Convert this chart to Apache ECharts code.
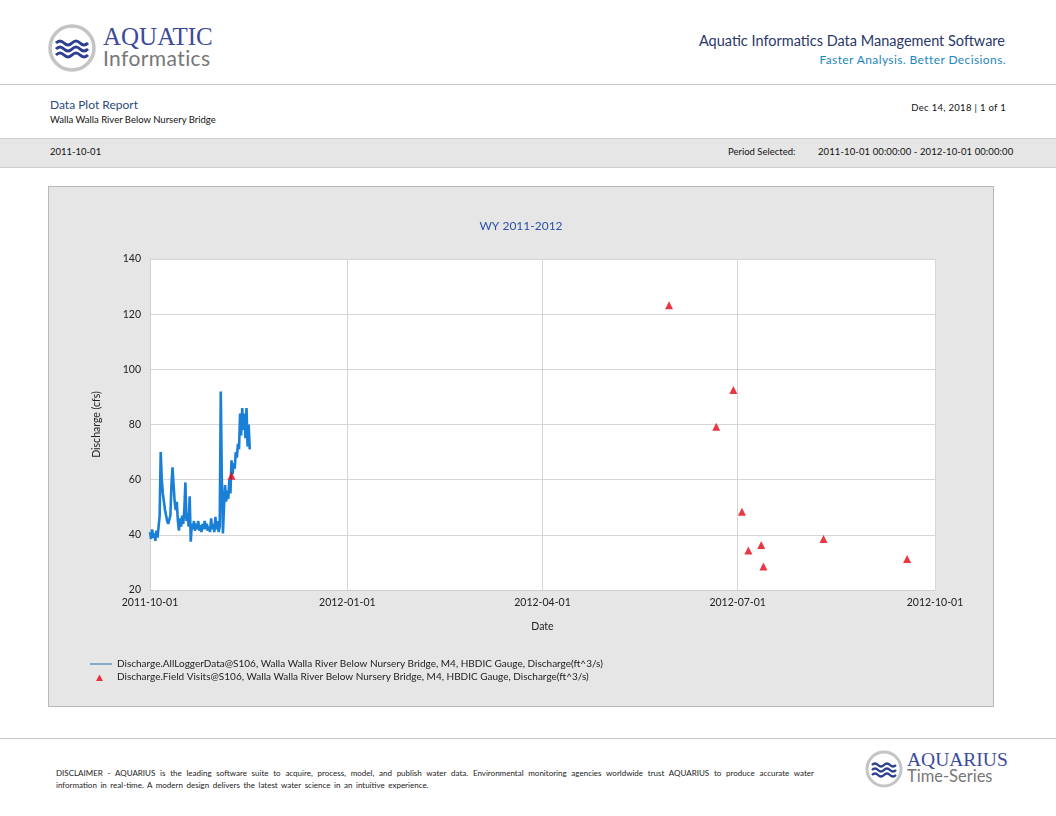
<!DOCTYPE html>
<html>
<head>
<meta charset="utf-8">
<script src="https://cdn.jsdelivr.net/npm/echarts@6/dist/echarts.min.js"></script>
<style>
  html, body { margin: 0; padding: 0; background: #fff; }
  body { width: 1056px; height: 816px; position: relative; overflow: hidden; font-family: Lato, "Noto Sans", sans-serif; }
  .abs { position: absolute; white-space: nowrap; }
  .hr { position: absolute; left: 0; width: 1056px; height: 0; border-top: 1px solid #c8c8c8; }
  #band { position: absolute; left: 0; top: 138px; width: 1056px; height: 28px; background: #e6e6e6; border-top: 1px solid #cfcfcf; border-bottom: 1px solid #cfcfcf; }
  #chart { position: absolute; left: 48px; top: 186px; width: 944px; height: 519px; border: 1px solid #b8b8b8; background: #e6e6e6; }
  .disc { position: absolute; left: 56px; width: 758px; font-size: 8px; color: #222; white-space: nowrap; }
</style>
</head>
<body>
<!-- header -->
<svg class="abs" style="left:47px;top:23px" width="50" height="50" viewBox="0 0 50 50">
  <circle cx="25" cy="25" r="22" fill="#fff" stroke="#c4c4c4" stroke-width="3.5"/>
  <path d="M9 20 q4 -4 8 0 t8 0 t8 0 t8 0" fill="none" stroke="#2d3f92" stroke-width="3"/>
  <path d="M9 26 q4 -4 8 0 t8 0 t8 0 t8 0" fill="none" stroke="#2d3f92" stroke-width="3"/>
  <path d="M9 32 q4 -4 8 0 t8 0 t8 0 t8 0" fill="none" stroke="#2d3f92" stroke-width="3"/>
</svg>
<div class="abs" style="left:103px;top:23px;font-family:'Liberation Serif','DejaVu Serif',serif;font-size:25px;color:#3b4a9c">AQUATIC</div>
<div class="abs" style="left:103px;top:45px;font-size:21px;color:#777;letter-spacing:0.4px">Informatics</div>
<div class="abs" style="right:51px;top:32px;font-size:14.5px;color:#2a3868">Aquatic Informatics Data Management Software</div>
<div class="abs" style="right:50px;top:52px;font-size:12px;color:#1d86c0;letter-spacing:0.4px">Faster Analysis. Better Decisions.</div>
<div class="hr" style="top:84px"></div>
<div class="abs" style="left:50px;top:97px;font-size:12px;color:#2a4a78">Data Plot Report</div>
<div class="abs" style="left:50px;top:114px;font-size:9.5px;color:#111">Walla Walla River Below Nursery Bridge</div>
<div class="abs" style="right:50px;top:102px;font-size:9.5px;color:#111;letter-spacing:0.3px">Dec 14, 2018 | 1 of 1</div>
<div id="band"></div>
<div class="abs" style="left:50px;top:146px;font-size:9.5px;color:#111">2011-10-01</div>
<div class="abs" style="left:728px;top:146px;font-size:9.5px;color:#111">Period Selected:</div>
<div class="abs" style="left:818px;top:146px;font-size:9.5px;color:#111;letter-spacing:0.1px">2011-10-01 00:00:00 - 2012-10-01 00:00:00</div>

<div id="chart"></div>

<!-- footer -->
<div class="hr" style="top:738px"></div>
<div class="disc" style="top:768px;text-align:justify;text-align-last:justify;white-space:normal">DISCLAIMER - AQUARIUS is the leading software suite to acquire, process, model, and publish water data. Environmental monitoring agencies worldwide trust AQUARIUS to produce accurate water</div>
<div class="disc" style="top:780px;word-spacing:1.5px">information in real-time. A modern design delivers the latest water science in an intuitive experience.</div>
<svg class="abs" style="left:864px;top:749px" width="40" height="40" viewBox="0 0 40 40">
  <circle cx="20" cy="20" r="17" fill="#fff" stroke="#c4c4c4" stroke-width="3"/>
  <path d="M8 16 q3 -3 6 0 t6 0 t6 0 t6 0" fill="none" stroke="#2d3f92" stroke-width="2.4"/>
  <path d="M8 21 q3 -3 6 0 t6 0 t6 0 t6 0" fill="none" stroke="#2d3f92" stroke-width="2.4"/>
  <path d="M8 26 q3 -3 6 0 t6 0 t6 0 t6 0" fill="none" stroke="#2d3f92" stroke-width="2.4"/>
</svg>
<div class="abs" style="left:907px;top:749px;font-family:'Liberation Serif','DejaVu Serif',serif;font-size:19.5px;color:#3b4a9c">AQUARIUS</div>
<div class="abs" style="left:907px;top:766px;font-size:16.5px;color:#777">Time-Series</div>

<script>
// axis range and labels
const xStart = '2011-10-01';
const xEnd = '2012-10-01';
const yTicks = [20, 40, 60, 80, 100, 120, 140];

// logger discharge, one reading every 12 hours from 2011-10-01 00:00
const loggerStart = '2011-10-01T00:00:00';
const loggerStepHours = 12;
const loggerValues = [
  41, 38.5, 42, 39, 40.5, 37.8, 41.5, 39, 43, 47,
  70, 60, 55, 52, 49, 47, 45, 44, 43.5, 47,
  58, 64.5, 58, 52, 49, 52, 45, 41.5, 46, 43,
  47, 44, 49, 59, 45, 48, 43, 54, 37.5, 44,
  42, 45, 41.5, 44, 42, 45, 41.5, 43.5, 41, 44,
  42, 45, 42, 44, 41.5, 43, 41, 46, 42, 44,
  41, 46.5, 42, 45, 41, 43, 92, 60, 40.5, 50,
  58, 52, 56, 53, 60, 55, 67, 62, 66, 64,
  70, 68, 73, 71, 84, 76, 86, 78, 84, 75,
  86, 72, 80, 71
];

// field visit measurements
const visitDates = [
  '2011-11-08', '2012-05-30', '2012-06-21', '2012-06-29', '2012-07-03',
  '2012-07-06', '2012-07-12', '2012-07-13', '2012-08-10', '2012-09-18'
];
const visitValues = [61.4, 123.2, 79.2, 92.5, 48.4, 34.3, 36.3, 28.5, 38.5, 31.2];

const loggerName = 'Discharge.AllLoggerData@S106, Walla Walla River Below Nursery Bridge, M4, HBDIC Gauge, Discharge(ft^3/s)';
const visitName = 'Discharge.Field Visits@S106, Walla Walla River Below Nursery Bridge, M4, HBDIC Gauge, Discharge(ft^3/s)';

const t0 = new Date(loggerStart).getTime();
const loggerData = loggerValues.map((v, i) => [t0 + i * loggerStepHours * 3600 * 1000, v]);
const visitData = visitDates.map((d, i) => [d, visitValues[i]]);

const font = 'Lato, "Noto Sans", sans-serif';
const chart = echarts.init(document.getElementById('chart'));

// legend icons drawn inside a 22x8 box so both share the same slot
const lineIcon = 'path://M0,0 L0.01,0 L0.01,0.01 Z M0,3.5 L22,3.5 L22,4.5 L0,4.5 Z M22,8 L21.99,8 L21.99,7.99 Z';
const triIcon = 'path://M0,0 L0.01,0 L0.01,0.01 Z M6,8 L9.5,1.5 L13,8 Z M22,8 L21.99,8 L21.99,7.99 Z';

chart.setOption({
  animation: false,
  textStyle: { fontFamily: font },
  title: {
    text: 'WY 2011-2012',
    left: 'center',
    top: 28,
    textStyle: { fontSize: 12, fontWeight: 'normal', color: '#2f4fa8', fontFamily: font },
  },
  legend: {
    orient: 'vertical',
    left: 36,
    top: 467,
    itemGap: 3,
    itemWidth: 22,
    itemHeight: 8,
    textStyle: { fontSize: 10, color: '#222', fontFamily: font },
    data: [
      { name: loggerName, icon: lineIcon, itemStyle: { color: '#1f6fb0' } },
      { name: visitName, icon: triIcon },
    ],
  },
  grid: {
    left: 101,
    top: 72,
    width: 785,
    height: 331,
    show: true,
    backgroundColor: '#fff',
    borderWidth: 0,
  },
  xAxis: {
    type: 'time',
    min: xStart,
    max: xEnd,
    splitNumber: 4,
    name: 'Date',
    nameLocation: 'middle',
    nameGap: 31,
    nameTextStyle: { fontSize: 10.5, color: '#222' },
    axisLine: { show: true, lineStyle: { color: '#d0d0d0' } },
    axisTick: { show: false },
    axisLabel: {
      formatter: '{yyyy}-{MM}-{dd}',
      fontSize: 10.5,
      color: '#222',
      margin: 7,
      showMinLabel: true,
      showMaxLabel: true,
      hideOverlap: false,
    },
    splitLine: { show: true, lineStyle: { color: '#d6d6d6' } },
  },
  yAxis: {
    type: 'value',
    min: yTicks[0],
    max: yTicks[yTicks.length - 1],
    interval: 20,
    name: 'Discharge (cfs)',
    nameLocation: 'middle',
    nameGap: 48,
    nameRotate: 90,
    nameTextStyle: { fontSize: 10.5, color: '#222' },
    axisLine: { show: true, lineStyle: { color: '#d0d0d0' } },
    axisTick: { show: false },
    axisLabel: { fontSize: 10.5, color: '#222', margin: 9 },
    splitLine: { show: true, lineStyle: { color: '#d6d6d6' } },
  },
  series: [
    {
      name: loggerName,
      type: 'line',
      data: loggerData,
      showSymbol: false,
      lineStyle: { color: '#1a7fd6', width: 2.6 },
      itemStyle: { color: '#1a7fd6' },
      z: 2,
    },
    {
      name: visitName,
      type: 'scatter',
      data: visitData,
      symbol: 'triangle',
      symbolSize: 8,
      itemStyle: { color: '#e30613' },
      z: 3,
    },
  ],
});
</script>
</body>
</html>
